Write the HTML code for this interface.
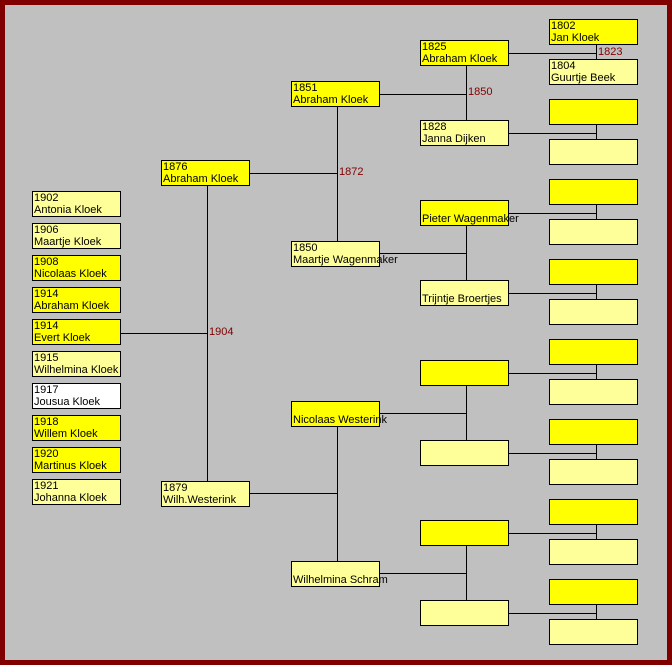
<!DOCTYPE html>
<html><head><style>
body{margin:0;width:672px;height:665px;overflow:hidden;background:#c0c0c0;font-family:"Liberation Sans",sans-serif;}
#f{position:absolute;left:0;top:0;width:662px;height:655px;border:5px solid #800000;background:#c0c0c0;}
.b{position:absolute;width:87px;height:24px;border:1px solid #000;font-size:11px;line-height:12px;white-space:nowrap;box-sizing:content-box;}
.b div{padding-left:1px;}
.y{background:#ffff00}.p{background:#ffff99}.w{background:#fff}
.c{text-align:center;}
.l{position:absolute;font-size:11px;color:#800000;line-height:12px;}
svg{position:absolute;left:0;top:0}
</style></head><body>
<div id="f"></div>
<svg width="672" height="665" stroke="#000" stroke-width="1" shape-rendering="crispEdges">
<line x1="121" y1="333.5" x2="207" y2="333.5"/><line x1="207.5" y1="186" x2="207.5" y2="481"/>
<line x1="249" y1="173.5" x2="337" y2="173.5"/><line x1="337.5" y1="107" x2="337.5" y2="241"/>
<line x1="249" y1="493.5" x2="337" y2="493.5"/><line x1="337.5" y1="427" x2="337.5" y2="561"/>
<line x1="379" y1="94.5" x2="466" y2="94.5"/><line x1="466.5" y1="66" x2="466.5" y2="120"/>
<line x1="379" y1="253.5" x2="466" y2="253.5"/><line x1="466.5" y1="226" x2="466.5" y2="280"/>
<line x1="379" y1="413.5" x2="466" y2="413.5"/><line x1="466.5" y1="386" x2="466.5" y2="440"/>
<line x1="379" y1="573.5" x2="466" y2="573.5"/><line x1="466.5" y1="546" x2="466.5" y2="600"/>
<g id="g4">
<line x1="508" y1="53.5" x2="596" y2="53.5"/><line x1="596.5" y1="45" x2="596.5" y2="59"/>
<line x1="508" y1="133.5" x2="596" y2="133.5"/><line x1="596.5" y1="125" x2="596.5" y2="139"/>
<line x1="508" y1="213.5" x2="596" y2="213.5"/><line x1="596.5" y1="205" x2="596.5" y2="219"/>
<line x1="508" y1="293.5" x2="596" y2="293.5"/><line x1="596.5" y1="285" x2="596.5" y2="299"/>
<line x1="508" y1="373.5" x2="596" y2="373.5"/><line x1="596.5" y1="365" x2="596.5" y2="379"/>
<line x1="508" y1="453.5" x2="596" y2="453.5"/><line x1="596.5" y1="445" x2="596.5" y2="459"/>
<line x1="508" y1="533.5" x2="596" y2="533.5"/><line x1="596.5" y1="525" x2="596.5" y2="539"/>
<line x1="508" y1="613.5" x2="596" y2="613.5"/><line x1="596.5" y1="605" x2="596.5" y2="619"/>
</g>
</svg>
<div class="l" style="left:209px;top:326px">1904</div>
<div class="l" style="left:339px;top:166px">1872</div>
<div class="l" style="left:468px;top:86px">1850</div>
<div class="l" style="left:598px;top:46px">1823</div>

<div class="b p" style="left:32px;top:191px"><div>1902</div><div>Antonia Kloek</div></div>
<div class="b p" style="left:32px;top:223px"><div>1906</div><div>Maartje Kloek</div></div>
<div class="b y" style="left:32px;top:255px"><div>1908</div><div>Nicolaas Kloek</div></div>
<div class="b y" style="left:32px;top:287px"><div>1914</div><div>Abraham Kloek</div></div>
<div class="b y" style="left:32px;top:319px"><div>1914</div><div>Evert Kloek</div></div>
<div class="b p" style="left:32px;top:351px"><div>1915</div><div>Wilhelmina Kloek</div></div>
<div class="b w" style="left:32px;top:383px"><div>1917</div><div>Jousua Kloek</div></div>
<div class="b y" style="left:32px;top:415px"><div>1918</div><div>Willem Kloek</div></div>
<div class="b y" style="left:32px;top:447px"><div>1920</div><div>Martinus Kloek</div></div>
<div class="b p" style="left:32px;top:479px"><div>1921</div><div>Johanna Kloek</div></div>

<div class="b y" style="left:161px;top:160px"><div>1876</div><div>Abraham Kloek</div></div>
<div class="b p" style="left:161px;top:481px"><div>1879</div><div>Wilh.Westerink</div></div>

<div class="b y" style="left:291px;top:81px"><div>1851</div><div>Abraham Kloek</div></div>
<div class="b p" style="left:291px;top:241px"><div>1850</div><div class="c">Maartje Wagenmaker</div></div>
<div class="b y" style="left:291px;top:401px"><div>&nbsp;</div><div class="c">Nicolaas Westerink</div></div>
<div class="b p" style="left:291px;top:561px"><div>&nbsp;</div><div class="c">Wilhelmina Schram</div></div>

<div class="b y" style="left:420px;top:40px"><div>1825</div><div>Abraham Kloek</div></div>
<div class="b p" style="left:420px;top:120px"><div>1828</div><div>Janna Dijken</div></div>
<div class="b y" style="left:420px;top:200px"><div>&nbsp;</div><div class="c">Pieter Wagenmaker</div></div>
<div class="b p" style="left:420px;top:280px"><div>&nbsp;</div><div>Trijntje Broertjes</div></div>
<div class="b y" style="left:420px;top:360px"></div>
<div class="b p" style="left:420px;top:440px"></div>
<div class="b y" style="left:420px;top:520px"></div>
<div class="b p" style="left:420px;top:600px"></div>

<div class="b y" style="left:549px;top:19px"><div>1802</div><div>Jan Kloek</div></div>
<div class="b p" style="left:549px;top:59px"><div>1804</div><div>Guurtje Beek</div></div>
<div class="b y" style="left:549px;top:99px"></div><div class="b p" style="left:549px;top:139px"></div>
<div class="b y" style="left:549px;top:179px"></div><div class="b p" style="left:549px;top:219px"></div>
<div class="b y" style="left:549px;top:259px"></div><div class="b p" style="left:549px;top:299px"></div>
<div class="b y" style="left:549px;top:339px"></div><div class="b p" style="left:549px;top:379px"></div>
<div class="b y" style="left:549px;top:419px"></div><div class="b p" style="left:549px;top:459px"></div>
<div class="b y" style="left:549px;top:499px"></div><div class="b p" style="left:549px;top:539px"></div>
<div class="b y" style="left:549px;top:579px"></div><div class="b p" style="left:549px;top:619px"></div>
</body></html>
